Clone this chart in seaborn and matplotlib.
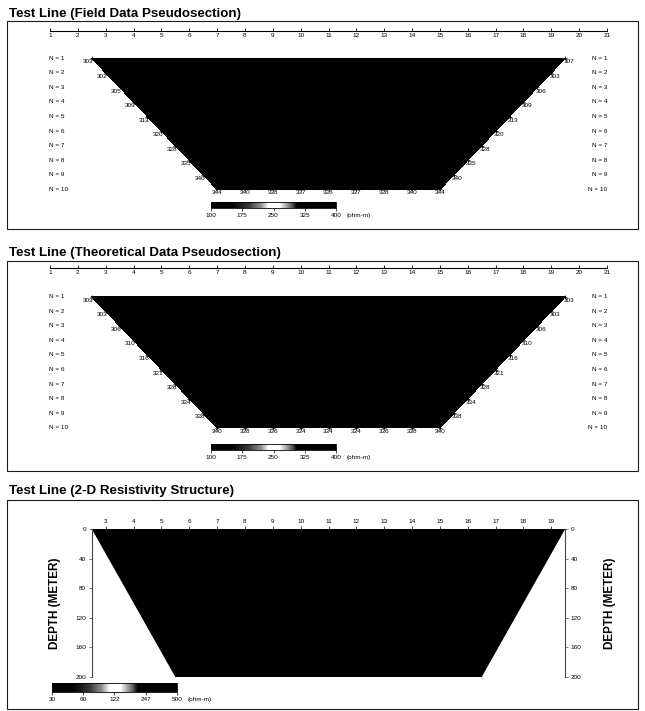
import numpy as np
import pandas as pd
import matplotlib
matplotlib.use("Agg")
import matplotlib.pyplot as plt
import matplotlib.tri as mtri
from matplotlib.colors import LinearSegmentedColormap, Normalize, LogNorm
from matplotlib.cm import ScalarMappable
from matplotlib.patches import Rectangle
import seaborn as sns

# ---------------------------------------------------------------------------
# Apparent resistivity (ohm-m) read along the edges of each pseudosection.
# Left/right edges hold levels N = 1..9, bottom row is level N = 10.
# ---------------------------------------------------------------------------
levels_n = [1, 2, 3, 4, 5, 6, 7, 8, 9, 10]

field_left = [303, 302, 305, 309, 313, 320, 328, 335, 340]
field_right = [307, 303, 306, 309, 313, 320, 328, 335, 340]
field_bottom = [344, 340, 338, 337, 336, 337, 338, 340, 344]

theory_left = [303, 303, 306, 310, 316, 321, 328, 334, 338]
theory_right = [303, 303, 306, 310, 316, 321, 328, 334, 338]
theory_bottom = [340, 338, 336, 334, 334, 334, 336, 338, 340]

station_ticks = list(range(1, 22))
pseudo_cbar_ticks = [100, 175, 250, 325, 400]

# 2-D resistivity model section
model_station_ticks = list(range(3, 20))
model_depth_ticks = [0, 40, 80, 120, 160, 200]
model_top_x = [2.5, 19.5]
model_bottom_x = [5.5, 16.5]
model_depth = [0, 200]
model_rho = 320
model_cbar_ticks = [30, 60, 122, 247, 500]

# ---------------------------------------------------------------------------
sns.set_theme(context="paper", style="ticks")
plt.rcParams["font.family"] = ["Liberation Sans", "DejaVu Sans"]
plt.rcParams["axes.linewidth"] = 0.7
for key in ("text.color", "axes.labelcolor", "xtick.color", "ytick.color",
            "axes.edgecolor"):
    plt.rcParams[key] = "black"

W, H = 645, 711
fig = plt.figure(figsize=(W / 100, H / 100), dpi=100)
fig.patch.set_facecolor("white")

X_PX0, X_SCALE = 50.0, 27.85      # pixel column of station 1, pixels per station
ROW_PX = 14.56                     # pixels per pseudosection level

res_cmap = LinearSegmentedColormap.from_list("res_gray", [
    (0.00, "#000000"), (0.17, "#000000"), (0.30, "#383838"),
    (0.40, "#8f8f8f"), (0.46, "#ffffff"), (0.55, "#ffffff"),
    (0.63, "#777777"), (0.69, "#000000"), (1.00, "#000000")])
pseudo_norm = Normalize(100, 400)
model_norm = LogNorm(30, 500)

TXT = 4.6


def fig_rect(x0, y0, x1, y1):
    return [x0 / W, 1 - y1 / H, (x1 - x0) / W, (y1 - y0) / H]


def station_at(px):
    return (px - X_PX0) / X_SCALE + 1


def frame(x0, y0, x1, y1, title, title_y):
    fig.add_artist(Rectangle((x0 / W, 1 - y1 / H), (x1 - x0) / W, (y1 - y0) / H,
                             transform=fig.transFigure, fill=False,
                             lw=0.8, ec="#1a1a1a"))
    fig.text(9 / W, 1 - title_y / H, title, fontsize=9.6, fontweight="bold",
             ha="left", va="center", color="black")


def colorbar(box, norm, ticks):
    cax = fig.add_axes(fig_rect(*box))
    cb = fig.colorbar(ScalarMappable(norm=norm, cmap=res_cmap), cax=cax,
                      orientation="horizontal")
    cb.ax.minorticks_off()
    cb.set_ticks(ticks, labels=[str(t) for t in ticks])
    cb.outline.set_linewidth(0.6)
    cax.tick_params(labelsize=TXT, length=2, width=0.5, pad=1.5, color="black")
    cax.annotate("(ohm-m)", xy=(1, 0), xycoords="axes fraction",
                 xytext=(7.5, -3.5), textcoords="offset points",
                 ha="left", va="top", fontsize=TXT)
    return cb


def pseudosection(box, title, title_y, left, right, bottom, ruler_y, n1_y, cbar_box):
    x0, y0, x1, y1 = box
    frame(x0, y0, x1, y1, title, title_y)

    ax = fig.add_axes(fig_rect(*box))
    ax.set_facecolor("none")

    n_edge = np.array(levels_n[:-1], dtype=float)
    left_x = 2.5 + 0.5 * (n_edge - 1)
    right_x = 19.5 - 0.5 * (n_edge - 1)
    bottom_x = np.arange(left_x[-1] + 0.5, right_x[-1] - 0.5 + 1e-9, 1.0)
    n_bottom = np.full(len(bottom), float(levels_n[-1]))

    df = pd.DataFrame({
        "x": np.concatenate([left_x, bottom_x, right_x]),
        "n": np.concatenate([n_edge, n_bottom, n_edge]),
        "rho": np.concatenate([left, bottom, right]).astype(float),
        "side": ["left"] * len(left) + ["bottom"] * len(bottom) + ["right"] * len(right),
    })

    tri = mtri.Triangulation(df["x"], df["n"])
    ax.tricontourf(tri, df["rho"], levels=np.linspace(100, 400, 13),
                   cmap=res_cmap, norm=pseudo_norm, zorder=2)
    sns.scatterplot(data=df, x="x", y="n", marker="+", s=9, color="black",
                    linewidth=0.5, ax=ax, legend=False, zorder=3)

    shift = {"left": -2.5, "bottom": 0.0, "right": 2.5}
    for _, r in df.iterrows():
        ax.annotate(f"{r.rho:.0f}", xy=(r.x, r.n), xytext=(shift[r.side], -0.8),
                    textcoords="offset points", ha="center", va="top",
                    fontsize=TXT, zorder=4)

    for n in levels_n:
        ax.text(station_at(49), n, f"N = {n}", ha="left", va="center", fontsize=TXT)
        ax.text(station_at(607), n, f"N = {n}", ha="right", va="center", fontsize=TXT)

    ax.set_xlim(station_at(x0), station_at(x1))
    ax.set_ylim(1 + (y1 - n1_y) / ROW_PX, 1 + (y0 - n1_y) / ROW_PX)
    ax.axis("off")

    # station ruler
    rax = fig.add_axes(fig_rect(x0, ruler_y - 1, x1, ruler_y))
    rax.set_facecolor("none")
    rax.set_xlim(station_at(x0), station_at(x1))
    rax.set_yticks([])
    for s in ("top", "left", "right"):
        rax.spines[s].set_visible(False)
    rax.spines["bottom"].set_bounds(station_ticks[0], station_ticks[-1])
    rax.spines["bottom"].set_linewidth(0.8)
    rax.set_xticks(station_ticks)
    rax.tick_params(axis="x", direction="in", length=2.5, width=0.6,
                    labelsize=TXT, pad=1.5, bottom=True)

    colorbar(cbar_box, pseudo_norm, pseudo_cbar_ticks)


pseudosection((7, 21.5, 638, 229), "Test Line (Field Data Pseudosection)", 14,
              field_left, field_right, field_bottom,
              ruler_y=30.5, n1_y=58.3, cbar_box=(211, 202, 336, 208))

pseudosection((7, 261, 638, 471), "Test Line (Theoretical Data Pseudosection)", 253,
              theory_left, theory_right, theory_bottom,
              ruler_y=268, n1_y=296.7, cbar_box=(211, 444, 336, 450))

# --------------------------- 2-D model section -----------------------------
frame(7, 500, 638, 709, "Test Line (2-D Resistivity Structure)", 491)

ax3 = fig.add_axes(fig_rect(X_PX0 + (model_top_x[0] - 1) * X_SCALE, 529,
                            X_PX0 + (model_top_x[1] - 1) * X_SCALE, 677))
ax3.fill([model_top_x[0], model_top_x[1], model_bottom_x[1], model_bottom_x[0]],
         [model_depth[0], model_depth[0], model_depth[1], model_depth[1]],
         color=res_cmap(model_norm(model_rho)), lw=0)
ax3.set_xlim(model_top_x[0], model_top_x[1])
ax3.set_ylim(model_depth[1], model_depth[0])
ax3.xaxis.tick_top()
ax3.set_xticks(model_station_ticks)
ax3.tick_params(axis="x", direction="out", length=2, width=0.5, labelsize=TXT,
                pad=1.5, top=True, bottom=False)
ax3.set_yticks(model_depth_ticks)
ax3.tick_params(axis="y", direction="out", length=2.5, width=0.5, labelsize=TXT,
                pad=1.5, left=True, right=False, color="#444444")
for s in ("top", "bottom", "right"):
    ax3.spines[s].set_visible(False)
ax3.spines["left"].set_color("#444444")
ax3.spines["left"].set_linewidth(0.8)
ax3.set_ylabel("DEPTH (METER)", fontsize=8.5, fontweight="bold", labelpad=10)

ax3r = ax3.twinx()
ax3r.set_ylim(model_depth[1], model_depth[0])
ax3r.set_yticks(model_depth_ticks)
ax3r.tick_params(axis="y", direction="out", length=2.5, width=0.5, labelsize=TXT,
                 pad=1.5, right=True, left=False, color="#444444")
for s in ("top", "bottom", "left"):
    ax3r.spines[s].set_visible(False)
ax3r.spines["right"].set_color("#444444")
ax3r.spines["right"].set_linewidth(0.8)
ax3r.set_ylabel("DEPTH (METER)", fontsize=8.5, fontweight="bold", labelpad=16)

colorbar((52, 683, 177, 692), model_norm, model_cbar_ticks)

fig.savefig("out.png", dpi=100, facecolor="white")
